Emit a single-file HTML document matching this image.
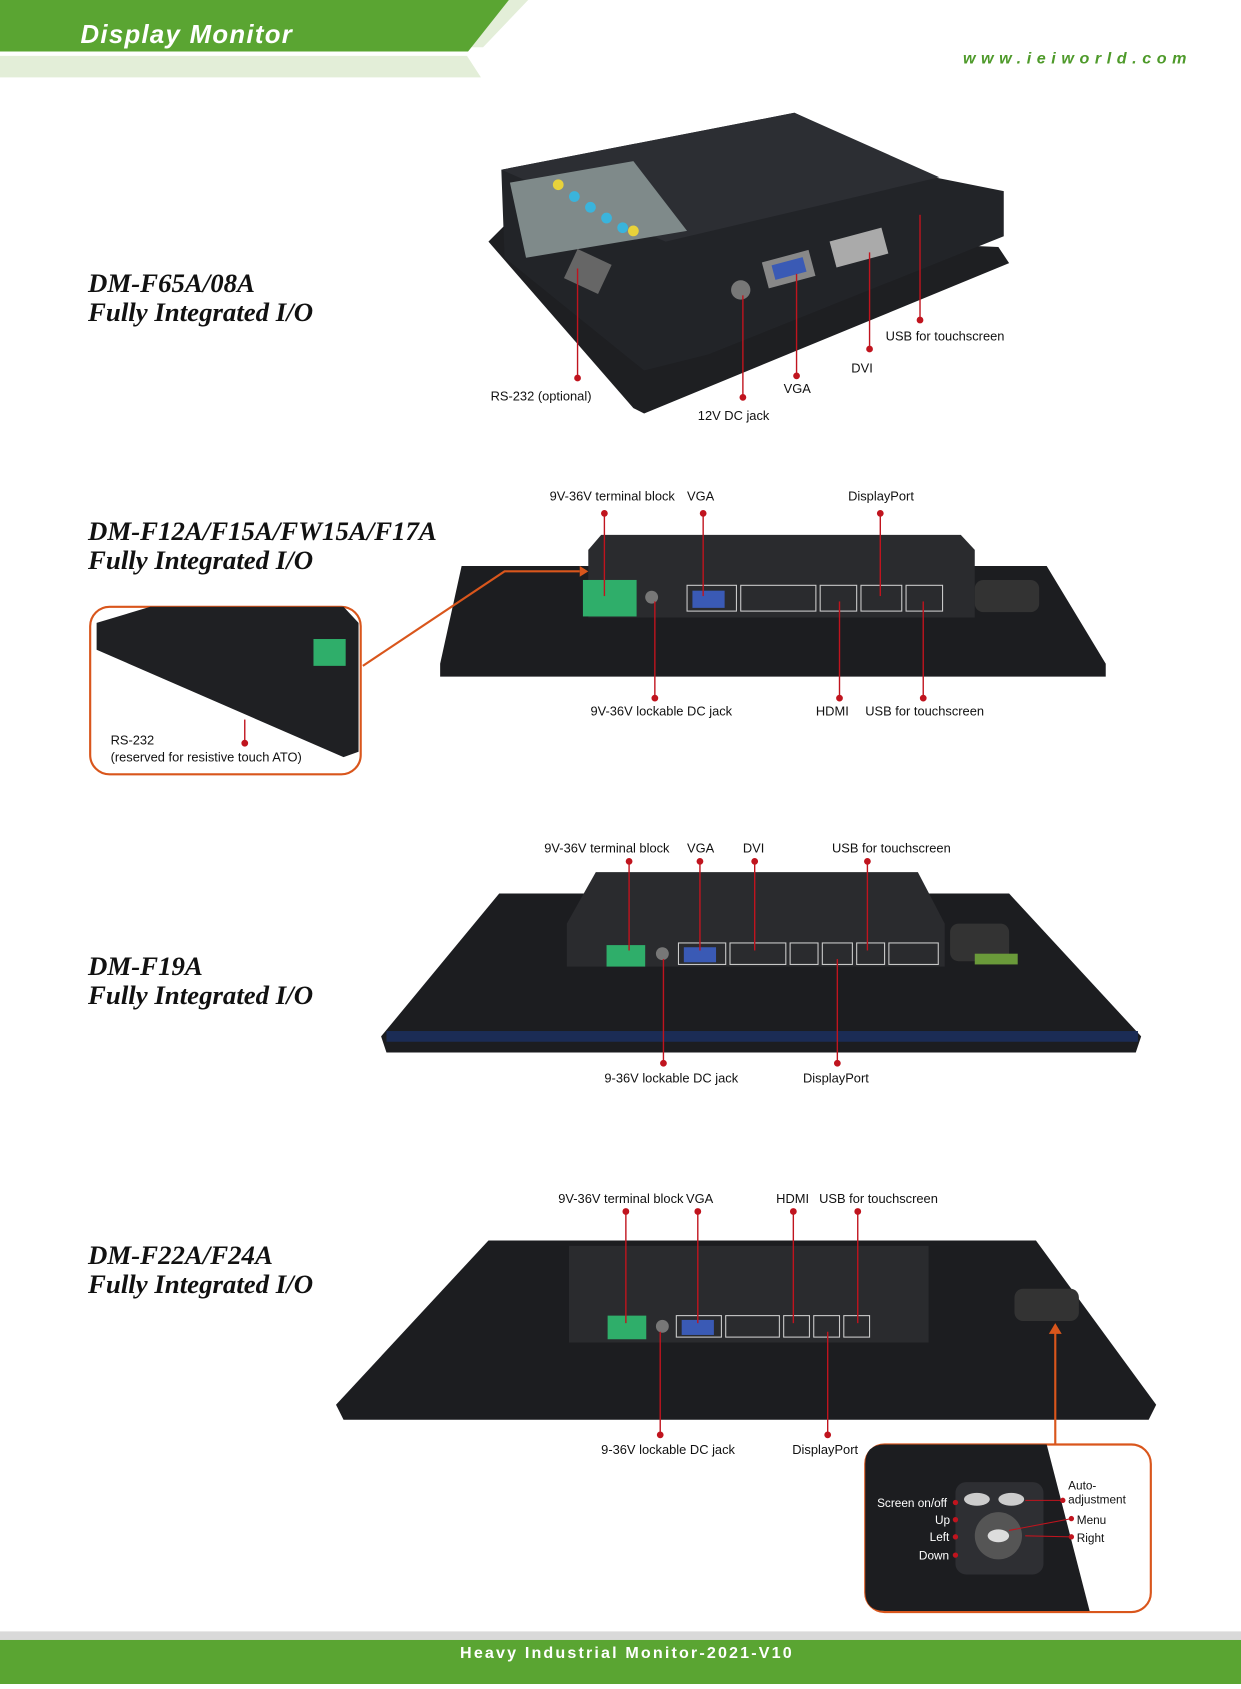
<!DOCTYPE html>
<html><head><meta charset="utf-8">
<style>
html,body{margin:0;padding:0;background:#fff;width:1241px;height:1684px;overflow:hidden}
#c{position:absolute;left:0;top:0;width:1156px;height:1568px;transform-origin:0 0;transform:scale(1.07353,1.07398)}
svg text{font-family:"Liberation Sans",sans-serif}
.t{font-family:"Liberation Serif",serif;font-style:italic;font-weight:bold;font-size:25px;fill:#111}
.l{font-size:12px;fill:#111}
</style></head><body><div id="c">
<svg width="1156" height="1568" viewBox="0 0 1156 1568" xmlns="http://www.w3.org/2000/svg">
<!-- header -->
<polygon points="0,52 435,52 448,72 0,72" fill="#e3eed8"/>
<polygon points="470,0 492,0 450,44 436,44" fill="#e3eed8"/>
<polygon points="0,0 474,0 436,48 0,48" fill="#5aa532"/>
<text x="75" y="40" fill="#fff" font-size="24" font-weight="bold" font-style="italic" letter-spacing="1.2">Display Monitor</text>
<text x="897" y="59" fill="#4e9a2a" font-size="15" font-weight="bold" font-style="italic" letter-spacing="5.2">www.ieiworld.com</text>

<!-- titles -->
<text class="t" x="82" y="272">DM-F65A/08A</text><text class="t" x="82" y="299">Fully Integrated I/O</text>
<text class="t" x="82" y="503">DM-F12A/F15A/FW15A/F17A</text><text class="t" x="82" y="530">Fully Integrated I/O</text>
<text class="t" x="82" y="908">DM-F19A</text><text class="t" x="82" y="935">Fully Integrated I/O</text>
<text class="t" x="82" y="1177">DM-F22A/F24A</text><text class="t" x="82" y="1204">Fully Integrated I/O</text>

<!-- monitor 1 -->
<polygon points="455,225 470,210 930,230 940,245 600,385 590,380" fill="#1e1f22"/>
<polygon points="467,158 740,105 870,165 935,178 935,220 660,330 600,345 470,240" fill="#222428"/>
<polygon points="467,158 740,105 875,165 620,225" fill="#2c2e33"/>
<polygon points="475,170 590,150 640,215 490,240" fill="#7f8a8a"/>
<circle cx="520" cy="172" r="5" fill="#e8d23a"/><circle cx="535" cy="183" r="5" fill="#3ab4dc"/><circle cx="550" cy="193" r="5" fill="#3ab4dc"/><circle cx="565" cy="203" r="5" fill="#3ab4dc"/><circle cx="580" cy="212" r="5" fill="#3ab4dc"/><circle cx="590" cy="215" r="5" fill="#e8d23a"/>
<rect x="530" y="238" width="35" height="30" fill="#666" transform="rotate(25 548 253)"/>
<rect x="712" y="238" width="45" height="25" fill="#888" transform="rotate(-15 735 250)"/><rect x="720" y="243" width="30" height="14" fill="#3a5ab5" transform="rotate(-15 735 250)"/>
<rect x="775" y="218" width="50" height="25" fill="#aaa" transform="rotate(-15 800 230)"/>
<circle cx="690" cy="270" r="9" fill="#777"/>
<g stroke="#c0141e" stroke-width="1.3" fill="#c0141e">
<line x1="538" y1="250" x2="538" y2="352"/><circle cx="538" cy="352" r="2.5"/>
<line x1="692" y1="275" x2="692" y2="370"/><circle cx="692" cy="370" r="2.5"/>
<line x1="742" y1="255" x2="742" y2="350"/><circle cx="742" cy="350" r="2.5"/>
<line x1="810" y1="235" x2="810" y2="325"/><circle cx="810" cy="325" r="2.5"/>
<line x1="857" y1="200" x2="857" y2="298"/><circle cx="857" cy="298" r="2.5"/>
</g>
<text class="l" x="457" y="373">RS-232 (optional)</text><text class="l" x="650" y="391">12V DC jack</text>
<text class="l" x="730" y="366">VGA</text><text class="l" x="793" y="347">DVI</text><text class="l" x="825" y="317">USB for touchscreen</text>

<!-- monitor 2 -->
<polygon points="430,527 975,527 1030,618 1030,630 410,630 410,618" fill="#1c1d20"/>
<rect x="908" y="540" width="60" height="30" rx="8" fill="#333"/>
<polygon points="548,512 560,498 895,498 908,512 908,575 548,575" fill="#2a2b2e"/>
<rect x="543" y="540" width="50" height="34" fill="#2fae6a"/>
<rect x="640" y="545" width="46" height="24" fill="none" stroke="#ccc"/><rect x="645" y="550" width="30" height="16" fill="#3a5ab5"/>
<rect x="690" y="545" width="70" height="24" fill="none" stroke="#ccc"/>
<rect x="764" y="545" width="34" height="24" fill="none" stroke="#ccc"/><rect x="802" y="545" width="38" height="24" fill="none" stroke="#ccc"/><rect x="844" y="545" width="34" height="24" fill="none" stroke="#ccc"/>
<circle cx="607" cy="556" r="6" fill="#777"/>
<g stroke="#c0141e" stroke-width="1.3" fill="#c0141e">
<line x1="563" y1="478" x2="563" y2="555"/><circle cx="563" cy="478" r="2.5"/>
<line x1="655" y1="478" x2="655" y2="555"/><circle cx="655" cy="478" r="2.5"/>
<line x1="820" y1="478" x2="820" y2="555"/><circle cx="820" cy="478" r="2.5"/>
<line x1="610" y1="560" x2="610" y2="650"/><circle cx="610" cy="650" r="2.5"/>
<line x1="782" y1="560" x2="782" y2="650"/><circle cx="782" cy="650" r="2.5"/>
<line x1="860" y1="560" x2="860" y2="650"/><circle cx="860" cy="650" r="2.5"/>
</g>
<text class="l" x="512" y="466">9V-36V terminal block</text><text class="l" x="640" y="466">VGA</text><text class="l" x="790" y="466">DisplayPort</text>
<text class="l" x="550" y="666">9V-36V lockable DC jack</text><text class="l" x="760" y="666">HDMI</text><text class="l" x="806" y="666">USB for touchscreen</text>
<polyline points="338,620 470,532 540,532" fill="none" stroke="#d9561c" stroke-width="2"/>
<polygon points="540,527 548,532 540,537" fill="#d9561c"/>
<rect x="84" y="565" width="252" height="156" rx="18" fill="#fff" stroke="#d9561c" stroke-width="2"/>
<polygon points="90,580 140,565 320,565 334,580 334,700 320,705 90,605" fill="#1f2023"/>
<rect x="292" y="595" width="30" height="25" fill="#2fae6a"/>
<g stroke="#c0141e" stroke-width="1.3" fill="#c0141e"><line x1="228" y1="670" x2="228" y2="692"/><circle cx="228" cy="692" r="2.5"/></g>
<text class="l" x="103" y="693">RS-232</text><text class="l" x="103" y="709">(reserved for resistive touch ATO)</text>

<!-- monitor 3 -->
<polygon points="465,832 940,832 1063,965 1058,980 360,980 355,965" fill="#1c1d20"/>
<rect x="360" y="960" width="700" height="10" fill="#1b2c55"/>
<rect x="885" y="860" width="55" height="35" rx="8" fill="#333"/>
<rect x="908" y="888" width="40" height="10" fill="#6a9a3a"/>
<polygon points="555,812 855,812 880,860 880,900 528,900 528,860" fill="#2a2b2e"/>
<rect x="565" y="880" width="36" height="20" fill="#2fae6a"/>
<rect x="632" y="878" width="44" height="20" fill="none" stroke="#ccc"/><rect x="637" y="882" width="30" height="14" fill="#3a5ab5"/>
<rect x="680" y="878" width="52" height="20" fill="none" stroke="#ccc"/><rect x="736" y="878" width="26" height="20" fill="none" stroke="#ccc"/><rect x="766" y="878" width="28" height="20" fill="none" stroke="#ccc"/><rect x="798" y="878" width="26" height="20" fill="none" stroke="#ccc"/><rect x="828" y="878" width="46" height="20" fill="none" stroke="#ccc"/>
<circle cx="617" cy="888" r="6" fill="#777"/>
<g stroke="#c0141e" stroke-width="1.3" fill="#c0141e">
<line x1="586" y1="802" x2="586" y2="885"/><circle cx="586" cy="802" r="2.5"/>
<line x1="652" y1="802" x2="652" y2="885"/><circle cx="652" cy="802" r="2.5"/>
<line x1="703" y1="802" x2="703" y2="885"/><circle cx="703" cy="802" r="2.5"/>
<line x1="808" y1="802" x2="808" y2="885"/><circle cx="808" cy="802" r="2.5"/>
<line x1="618" y1="893" x2="618" y2="990"/><circle cx="618" cy="990" r="2.5"/>
<line x1="780" y1="893" x2="780" y2="990"/><circle cx="780" cy="990" r="2.5"/>
</g>
<text class="l" x="507" y="794">9V-36V terminal block</text><text class="l" x="640" y="794">VGA</text><text class="l" x="692" y="794">DVI</text><text class="l" x="775" y="794">USB for touchscreen</text>
<text class="l" x="563" y="1008">9-36V lockable DC jack</text><text class="l" x="748" y="1008">DisplayPort</text>

<!-- monitor 4 -->
<polygon points="455,1155 965,1155 1077,1308 1070,1322 320,1322 313,1308" fill="#1c1d20"/>
<rect x="945" y="1200" width="60" height="30" rx="8" fill="#333"/>
<polygon points="530,1160 865,1160 865,1250 530,1250" fill="#2a2b2e"/>
<rect x="566" y="1225" width="36" height="22" fill="#2fae6a"/>
<rect x="630" y="1225" width="42" height="20" fill="none" stroke="#ccc"/><rect x="635" y="1229" width="30" height="14" fill="#3a5ab5"/>
<rect x="676" y="1225" width="50" height="20" fill="none" stroke="#ccc"/><rect x="730" y="1225" width="24" height="20" fill="none" stroke="#ccc"/><rect x="758" y="1225" width="24" height="20" fill="none" stroke="#ccc"/><rect x="786" y="1225" width="24" height="20" fill="none" stroke="#ccc"/>
<circle cx="617" cy="1235" r="6" fill="#777"/>
<g stroke="#c0141e" stroke-width="1.3" fill="#c0141e">
<line x1="583" y1="1128" x2="583" y2="1232"/><circle cx="583" cy="1128" r="2.5"/>
<line x1="650" y1="1128" x2="650" y2="1232"/><circle cx="650" cy="1128" r="2.5"/>
<line x1="739" y1="1128" x2="739" y2="1232"/><circle cx="739" cy="1128" r="2.5"/>
<line x1="799" y1="1128" x2="799" y2="1232"/><circle cx="799" cy="1128" r="2.5"/>
<line x1="615" y1="1240" x2="615" y2="1336"/><circle cx="615" cy="1336" r="2.5"/>
<line x1="771" y1="1240" x2="771" y2="1336"/><circle cx="771" cy="1336" r="2.5"/>
</g>
<text class="l" x="520" y="1120">9V-36V terminal block</text><text class="l" x="639" y="1120">VGA</text><text class="l" x="723" y="1120">HDMI</text><text class="l" x="763" y="1120">USB for touchscreen</text>
<text class="l" x="560" y="1354">9-36V lockable DC jack</text><text class="l" x="738" y="1354">DisplayPort</text>
<line x1="983" y1="1345" x2="983" y2="1240" stroke="#d9561c" stroke-width="2"/>
<polygon points="977,1242 983,1232 989,1242" fill="#d9561c"/>
<rect x="806" y="1345" width="266" height="156" rx="18" fill="#fff" stroke="#d9561c" stroke-width="2"/>
<path d="M824,1345 L975,1345 L1015,1500 L824,1500 Q806,1500 806,1482 L806,1363 Q806,1345 824,1345 Z" fill="#1c1d20"/>
<rect x="890" y="1380" width="82" height="86" rx="10" fill="#2e2f33"/>
<ellipse cx="910" cy="1396" rx="12" ry="6" fill="#ccc"/><ellipse cx="942" cy="1396" rx="12" ry="6" fill="#ccc"/>
<circle cx="930" cy="1430" r="22" fill="#555"/><ellipse cx="930" cy="1430" rx="10" ry="6" fill="#ddd"/>
<g stroke="#c0141e" stroke-width="1" fill="#c0141e">
<circle cx="890" cy="1399" r="2"/><circle cx="890" cy="1415" r="2"/><circle cx="890" cy="1431" r="2"/><circle cx="890" cy="1448" r="2"/>
<circle cx="990" cy="1397" r="2"/><circle cx="998" cy="1414" r="2"/><circle cx="998" cy="1431" r="2"/>
<line x1="990" y1="1397" x2="955" y2="1397"/><line x1="998" y1="1414" x2="940" y2="1425"/><line x1="998" y1="1431" x2="955" y2="1430"/>
</g>
<g font-size="11" fill="#fff"><text x="817" y="1403">Screen on/off</text><text x="871" y="1419">Up</text><text x="866" y="1435">Left</text><text x="856" y="1452">Down</text></g>
<g font-size="11" fill="#111"><text x="995" y="1387">Auto-</text><text x="995" y="1400">adjustment</text><text x="1003" y="1419">Menu</text><text x="1003" y="1436">Right</text></g>

<!-- footer -->
<rect x="0" y="1519" width="1156" height="8" fill="#d9d9d9"/>
<rect x="0" y="1527" width="1156" height="41" fill="#5aa532"/>
<text x="584" y="1544" fill="#fff" font-size="15" font-weight="bold" text-anchor="middle" letter-spacing="2">Heavy Industrial Monitor-2021-V10</text>
</svg></div></body></html>
